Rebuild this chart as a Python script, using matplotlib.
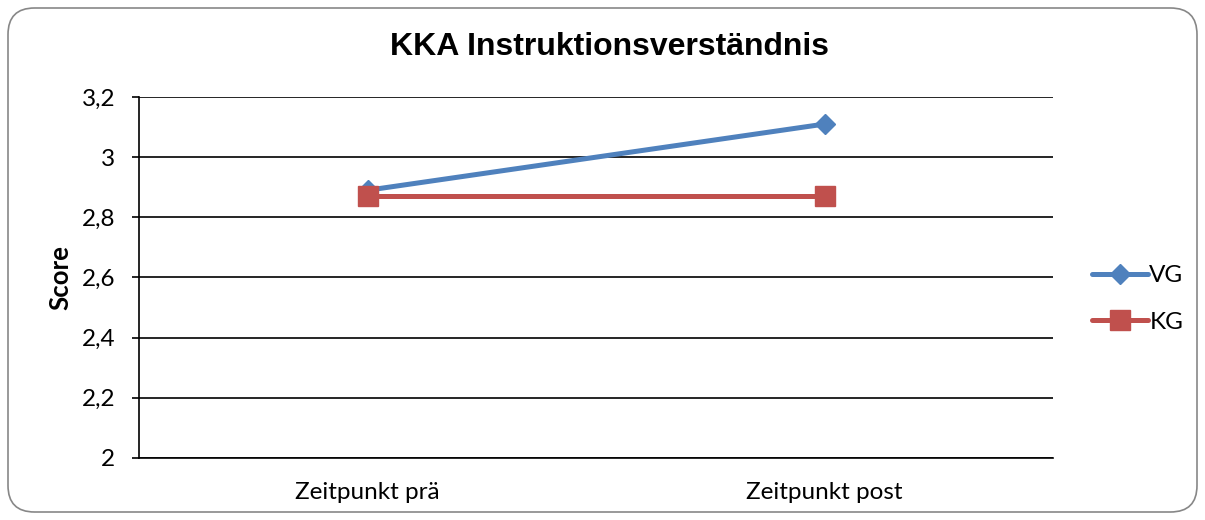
import matplotlib.pyplot as plt
from matplotlib.patches import FancyBboxPatch
from matplotlib.ticker import FuncFormatter

# data
categories = ['Zeitpunkt prä', 'Zeitpunkt post']
vg = [2.89, 3.11]
kg = [2.87, 2.87]
yticks = [2.0, 2.2, 2.4, 2.6, 2.8, 3.0, 3.2]

blue = '#4F81BD'
red = '#C0504D'
font = 'Lato'

fig = plt.figure(figsize=(12.05, 5.2), dpi=100)

# rounded chart border
W, H = 1205, 520
border = FancyBboxPatch((8 / W, 8 / H), 1 - 16 / W, 1 - 16 / H,
                        boxstyle='round,pad=0,rounding_size=0.022',
                        transform=fig.transFigure, fill=False,
                        edgecolor='#878787', linewidth=1.2,
                        mutation_aspect=W / H)
fig.patches.append(border)

ax = fig.add_axes([139 / W, 1 - 458 / H, (1053 - 139) / W, (458 - 97) / H])

x = range(len(categories))
ax.plot(x, vg, color=blue, linewidth=3.6, marker='D', markersize=10.5,
        label='VG', solid_capstyle='round')
ax.plot(x, kg, color=red, linewidth=3.6, marker='s', markersize=14,
        label='KG', solid_capstyle='round')

ax.set_xlim(-0.5, len(categories) - 0.5)
ax.set_ylim(2.0, 3.2)
ax.set_yticks(yticks)
ax.yaxis.set_major_formatter(FuncFormatter(lambda v, p: ('%g' % round(v, 1)).replace('.', ',')))
ax.set_xticks(list(x))
ax.set_xticklabels(categories, fontsize=17.5, family=font)
for lab in ax.get_yticklabels():
    lab.set_fontsize(17.5)
    lab.set_family(font)

ax.grid(axis='y', color='black', linewidth=1.2)
ax.set_axisbelow(True)
for s in ['top', 'right']:
    ax.spines[s].set_visible(False)
for s in ['left', 'bottom']:
    ax.spines[s].set_linewidth(1.2)
ax.tick_params(axis='y', length=5, width=1.2, pad=12)
ax.tick_params(axis='x', length=0, pad=17)

ax.set_ylabel('Score', fontsize=18.5, fontweight='bold', family=font, labelpad=7)
fig.text(609 / W, 1 - 47 / H, 'KKA Instruktionsverständnis', fontsize=23,
         fontweight='bold', family='Liberation Sans', ha='center', va='center')

ax.legend(loc='center left', bbox_to_anchor=(1.019, 0.44), frameon=False,
          prop={'family': font, 'size': 17.5}, handlelength=2.3,
          labelspacing=1.05, handletextpad=0.05)

fig.savefig('out.png', dpi=100)
